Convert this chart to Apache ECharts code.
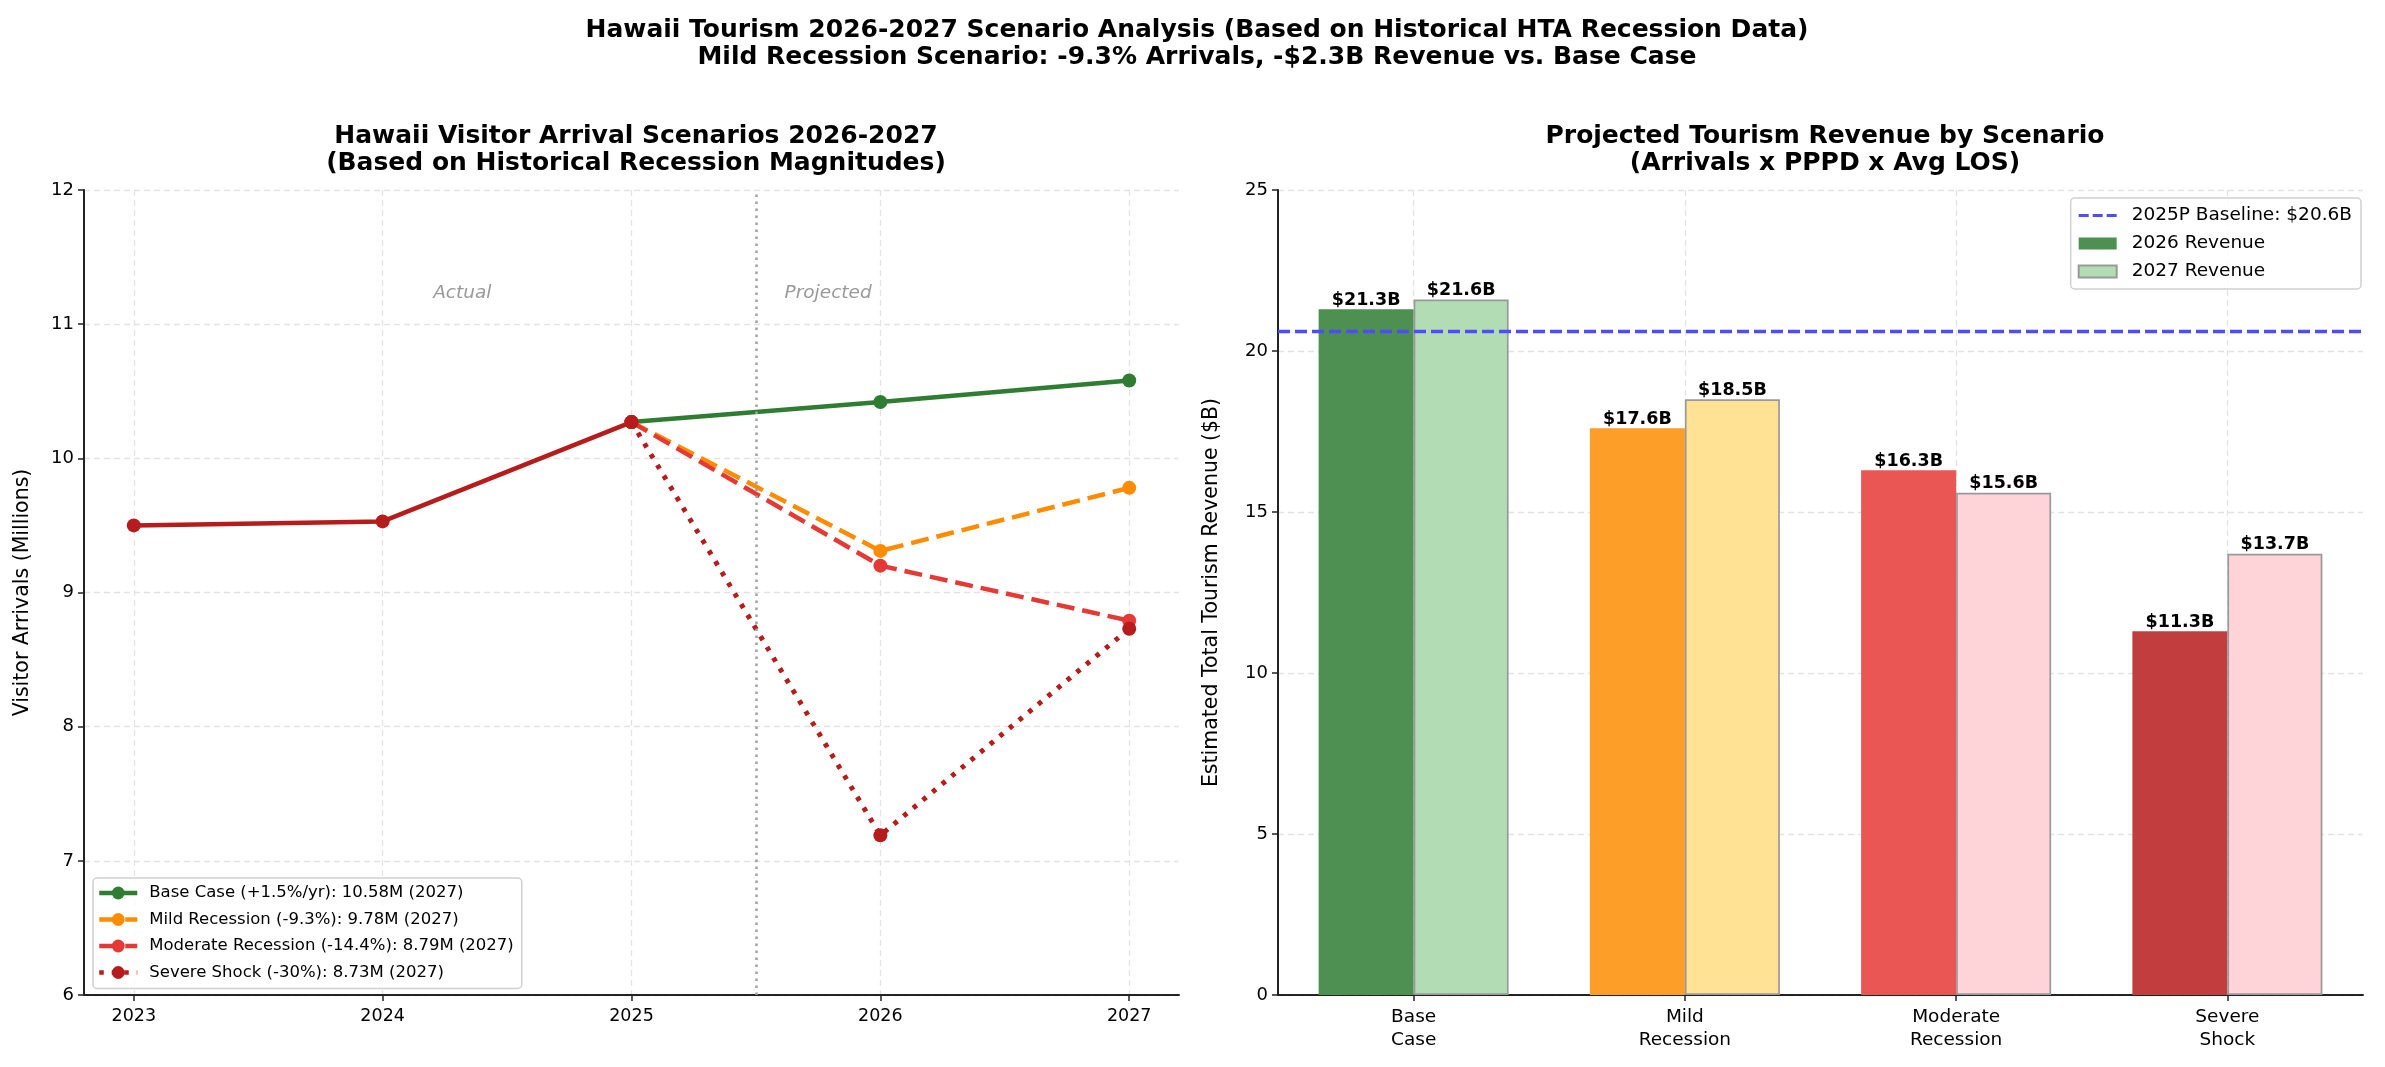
<!DOCTYPE html>
<html>
<head>
<meta charset="utf-8">
<script src="https://cdn.jsdelivr.net/npm/echarts@6/dist/echarts.min.js"></script>
<style>
  html, body { margin: 0; padding: 0; background: #fff; }
  #chart { width: 2385px; height: 1067px; }
</style>
</head>
<body>
<div id="chart"></div>
<script>
// --- left panel: visitor arrivals (millions) ---
const years = [2023, 2024, 2025, 2026, 2027]
const histYears = [2023, 2024, 2025]
const historical = [9.50, 9.53, 10.27]
const projYears = [2025, 2026, 2027]
const baseCase = [10.27, 10.42, 10.58]
const mildRec = [10.27, 9.31, 9.78]
const moderateRec = [10.27, 9.20, 8.79]
const severeShock = [10.27, 7.19, 8.73]
const scenarioNames = [
  'Base Case (+1.5%/yr): 10.58M (2027)',
  'Mild Recession (-9.3%): 9.78M (2027)',
  'Moderate Recession (-14.4%): 8.79M (2027)',
  'Severe Shock (-30%): 8.73M (2027)'
]
const splitYear = 2025.5
const noteLabels = ['Actual', 'Projected']
const noteX = [2024.32, 2025.79]
const noteY = 11.23

// --- right panel: revenue ($B) ---
const scenarios = ['Base\nCase', 'Mild\nRecession', 'Moderate\nRecession', 'Severe\nShock']
const rev2026 = [21.3, 17.6, 16.3, 11.3]
const rev2027 = [21.6, 18.5, 15.6, 13.7]
const baseline2025 = 20.6

const lineColors = ['#2E7D32', '#FF8C00', '#E53935', '#B71C1C']
const lineDash = ['solid', [18, 8], [18, 8], [4.5, 8]]
const colors2026 = ['#4D9051', '#FC9E27', '#E95653', '#C23E3E']
const colors2027 = ['#B2DCB4', '#FFE294', '#FFD4D9', '#FFD4D9']

const font = 'DejaVu Sans'
const gridLine = { show: true, lineStyle: { color: '#e3e3e3', width: 1.3, type: [6, 4] } }
const axisLineStyle = { show: true, lineStyle: { color: '#222', width: 2 } }
const tickStyle = { color: '#222', width: 1.5 }
const dashIcon = 'path://M0,0h10v3h-10z M14,0h10v3h-10z M28,0h10v3h-10z'

const chart = echarts.init(document.getElementById('chart'))

const pair = (xs, ys) => xs.map((x, i) => [x, ys[i]])
const scenarioData = [baseCase, mildRec, moderateRec, severeShock]

const lineSeries = scenarioData.map((vals, i) => ({
  name: scenarioNames[i],
  type: 'line',
  xAxisIndex: 0,
  yAxisIndex: 0,
  data: pair(projYears, vals),
  symbol: 'circle',
  symbolSize: 14,
  itemStyle: { color: lineColors[i] },
  lineStyle: { color: lineColors[i], width: i === 3 ? 5 : 4.5, type: lineDash[i], cap: 'butt' }
}))

const revLabel = {
  show: true, position: 'top', distance: 0,
  formatter: p => '$' + p.value.toFixed(1) + 'B',
  fontSize: 17.5, fontWeight: 'bold', color: '#000'
}

chart.setOption({
  animation: false,
  textStyle: { fontFamily: font },
  title: [{
    text: 'Hawaii Tourism 2026-2027 Scenario Analysis (Based on Historical HTA Recession Data)\nMild Recession Scenario: -9.3% Arrivals, -$2.3B Revenue vs. Base Case',
    left: 1192, top: 12, textAlign: 'center',
    textStyle: { fontFamily: font, fontSize: 25, fontWeight: 'bold', lineHeight: 27, color: '#000' }
  }, {
    text: 'Hawaii Visitor Arrival Scenarios 2026-2027\n(Based on Historical Recession Magnitudes)',
    left: 631, top: 118, textAlign: 'center',
    textStyle: { fontFamily: font, fontSize: 25, fontWeight: 'bold', lineHeight: 27, color: '#000' }
  }, {
    text: 'Projected Tourism Revenue by Scenario\n(Arrivals x PPPD x Avg LOS)',
    left: 1820, top: 118, textAlign: 'center',
    textStyle: { fontFamily: font, fontSize: 25, fontWeight: 'bold', lineHeight: 27, color: '#000' }
  }],
  legend: [{
    data: scenarioNames,
    orient: 'vertical',
    left: 93, top: 878,
    itemWidth: 38, itemHeight: 16, itemGap: 8.5,
    padding: [6, 8, 7, 4],
    borderColor: '#d0d0d0', borderWidth: 1.5, borderRadius: 4,
    backgroundColor: 'rgba(255,255,255,0.8)',
    lineStyle: { width: 4.5 },
    textStyle: { fontFamily: font, fontSize: 16.5, lineHeight: 18, color: '#000', padding: [0, 0, 0, 7] }
  }, {
    data: [
      { name: '2025P Baseline: $20.6B', icon: dashIcon },
      { name: '2026 Revenue', icon: 'rect' },
      { name: '2027 Revenue', icon: 'rect' }
    ],
    orient: 'vertical',
    right: 24, top: 198,
    itemWidth: 38, itemHeight: 12, itemGap: 9,
    padding: [8, 9, 8, 7],
    borderColor: '#d0d0d0', borderWidth: 1.5, borderRadius: 4,
    backgroundColor: 'rgba(255,255,255,0.8)',
    textStyle: { fontFamily: font, fontSize: 18.5, lineHeight: 19, color: '#000', padding: [0, 0, 0, 10] }
  }],
  grid: [
    { left: 84, right: 1206, top: 190, bottom: 72 },
    { left: 1278, right: 22, top: 190, bottom: 72 }
  ],
  xAxis: [{
    type: 'value', gridIndex: 0,
    min: 2022.8, max: 2027.2,
    axisLine: axisLineStyle,
    axisTick: { show: true, length: 6, customValues: years, lineStyle: tickStyle },
    axisLabel: { customValues: years, formatter: v => String(v), fontSize: 17.5, color: '#000', margin: 12 },
    splitLine: gridLine
  }, {
    type: 'category', gridIndex: 1,
    data: scenarios,
    axisLine: axisLineStyle,
    axisTick: { show: true, alignWithLabel: true, length: 6, lineStyle: tickStyle },
    axisLabel: { fontSize: 18.5, color: '#000', lineHeight: 23, margin: 11 },
    splitLine: Object.assign({ alignWithLabel: true }, gridLine)
  }],
  yAxis: [{
    type: 'value', gridIndex: 0,
    min: 6, max: 12, interval: 1,
    name: 'Visitor Arrivals (Millions)',
    nameLocation: 'middle', nameGap: 51,
    nameTextStyle: { fontSize: 20.5, color: '#000' },
    axisLine: axisLineStyle,
    axisTick: { show: true, length: 6, lineStyle: tickStyle },
    axisLabel: { fontSize: 18, color: '#000', margin: 10 },
    splitLine: gridLine
  }, {
    type: 'value', gridIndex: 1,
    min: 0, max: 25, interval: 5,
    name: 'Estimated Total Tourism Revenue ($B)',
    nameLocation: 'middle', nameGap: 56,
    nameTextStyle: { fontSize: 20.5, color: '#000' },
    axisLine: axisLineStyle,
    axisTick: { show: true, length: 6, lineStyle: tickStyle },
    axisLabel: { fontSize: 18, color: '#000', margin: 10 },
    splitLine: gridLine
  }],
  series: lineSeries.concat([{
    name: 'historical',
    type: 'line',
    xAxisIndex: 0, yAxisIndex: 0,
    data: pair(histYears, historical),
    symbol: 'circle', symbolSize: 14,
    itemStyle: { color: '#B71C1C' },
    lineStyle: { color: '#B71C1C', width: 4.5 },
    markLine: {
      silent: true, symbol: 'none',
      label: { show: false },
      lineStyle: { color: '#a0a0a0', width: 2.5, type: [2.5, 4.5] },
      data: [{ xAxis: splitYear }]
    }
  }, {
    name: 'notes',
    type: 'scatter',
    xAxisIndex: 0, yAxisIndex: 0,
    symbolSize: 0,
    data: noteLabels.map((t, i) => [noteX[i], noteY, t]),
    label: {
      show: true, position: 'inside',
      formatter: p => p.value[2],
      fontSize: 18.5, fontStyle: 'italic', color: '#808080'
    }
  }, {
    name: '2026 Revenue',
    type: 'bar',
    xAxisIndex: 1, yAxisIndex: 1,
    barWidth: 95, barGap: '0%',
    itemStyle: { color: colors2026[0] },
    data: rev2026.map((v, i) => ({ value: v, itemStyle: { color: colors2026[i] } })),
    label: revLabel
  }, {
    name: '2027 Revenue',
    type: 'bar',
    xAxisIndex: 1, yAxisIndex: 1,
    barWidth: 95, barGap: '0%',
    itemStyle: { color: colors2027[0], borderColor: '#999', borderWidth: 1.7 },
    data: rev2027.map((v, i) => ({ value: v, itemStyle: { color: colors2027[i], borderColor: '#999', borderWidth: 1.7 } })),
    label: revLabel
  }, {
    name: '2025P Baseline: $20.6B',
    type: 'line',
    xAxisIndex: 1, yAxisIndex: 1,
    data: scenarios.map(() => '-'),
    symbol: 'none',
    itemStyle: { color: '#4D4DFF' },
    lineStyle: { color: '#4D4DFF', width: 3.3, type: [12, 5] },
    markLine: {
      silent: true, symbol: 'none',
      label: { show: false },
      lineStyle: { color: '#4D4DFF', width: 3.3, type: [12, 5] },
      data: [{ yAxis: baseline2025 }]
    }
  }])
})
</script>
</body>
</html>
